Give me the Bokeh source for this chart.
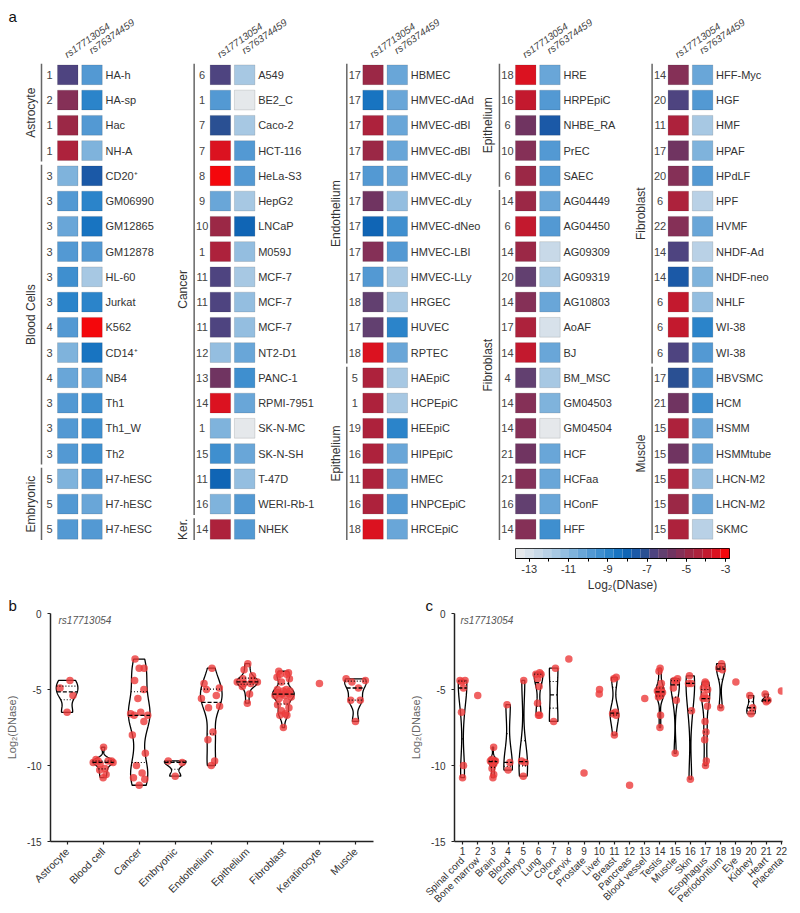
import numpy as np
from bokeh.plotting import figure
from bokeh.models import (Range1d, LinearColorMapper, ColumnDataSource, FixedTicker,
                          LinearAxis, Label, Spacer)
from bokeh.layouts import column, row
from bokeh.core.properties import value
from bokeh.embed import file_html
from bokeh.resources import INLINE

# ---------------- data ----------------
cell_names = [
    "HA-h", "HA-sp", "Hac", "NH-A", "CD20\u207a", "GM06990", "GM12865", "GM12878", "HL-60", "Jurkat",
    "K562", "CD14\u207a", "NB4", "Th1", "Th1_W", "Th2", "H7-hESC", "H7-hESC", "H7-hESC",
    "A549", "BE2_C", "Caco-2", "HCT-116", "HeLa-S3", "HepG2", "LNCaP", "M059J", "MCF-7", "MCF-7",
    "MCF-7", "NT2-D1", "PANC-1", "RPMI-7951", "SK-N-MC", "SK-N-SH", "T-47D", "WERI-Rb-1", "NHEK",
    "HBMEC", "HMVEC-dAd", "HMVEC-dBl", "HMVEC-dBl", "HMVEC-dLy", "HMVEC-dLy", "HMVEC-dNeo", "HMVEC-LBl",
    "HMVEC-LLy", "HRGEC", "HUVEC", "RPTEC", "HAEpiC", "HCPEpiC", "HEEpiC", "HIPEpiC", "HMEC", "HNPCEpiC", "HRCEpiC",
    "HRE", "HRPEpiC", "NHBE_RA", "PrEC", "SAEC", "AG04449", "AG04450", "AG09309", "AG09319", "AG10803",
    "AoAF", "BJ", "BM_MSC", "GM04503", "GM04504", "HCF", "HCFaa", "HConF", "HFF",
    "HFF-Myc", "HGF", "HMF", "HPAF", "HPdLF", "HPF", "HVMF", "NHDF-Ad", "NHDF-neo", "NHLF",
    "WI-38", "WI-38", "HBVSMC", "HCM", "HSMM", "HSMMtube", "LHCN-M2", "LHCN-M2", "SKMC"]

tissue_ids = [
    1, 2, 1, 1, 3, 3, 3, 3, 3, 3, 4, 3, 4, 3, 3, 3, 5, 5, 5,
    6, 1, 7, 7, 8, 9, 10, 1, 11, 11, 11, 12, 13, 14, 1, 15, 11, 16, 14,
    17, 17, 17, 17, 17, 17, 17, 17, 17, 18, 17, 18, 5, 1, 19, 16, 11, 16, 18,
    18, 16, 6, 10, 6, 14, 6, 14, 20, 14, 17, 14, 4, 14, 14, 21, 21, 16, 14,
    14, 20, 11, 17, 20, 6, 22, 14, 14, 6, 6, 6, 17, 21, 15, 15, 15, 15, 15]

rs17713054 = [
    -6.5, -5.4, -4.9, -4.4, -10.8, -9.7, -10.2, -9.7, -9.6, -8.8, -9.8, -10.6, -10.3, -9.8, -9.9, -9.7, -10.7, -9.7, -9.8,
    -6.7, -10.0, -7.1, -3.6, -3.0, -10.5, -5.0, -4.4, -6.7, -6.6, -6.5, -11.3, -5.6, -3.6, -10.8, -9.2, -8.0, -10.9, -4.6,
    -4.9, -8.3, -4.6, -5.0, -10.0, -5.6, -7.8, -5.4, -9.7, -6.2, -6.1, -3.6, -4.4, -4.5, -4.5, -4.6, -4.3, -4.6, -3.3,
    -3.7, -4.1, -5.9, -5.3, -4.8, -5.0, -4.0, -5.0, -6.2, -5.1, -4.5, -3.8, -6.0, -5.4, -5.2, -5.8, -5.3, -6.4, -5.3,
    -5.5, -6.6, -4.2, -5.6, -5.4, -4.3, -5.1, -6.7, -7.5, -4.0, -3.9, -6.7, -7.1, -5.7, -4.4, -5.7, -4.3, -4.9, -4.5]

rs76374459 = [
    -9.8, -9.0, -9.8, -10.8, -7.7, -9.0, -8.5, -9.8, -11.7, -9.1, -3.2, -8.3, -10.1, -9.4, -9.4, -9.4, -9.8, -10.4, -9.7,
    -11.8, -13.6, -11.8, -9.7, -9.7, -11.6, -8.0, -11.0, -11.7, -11.0, -11.0, -10.3, -9.4, -10.1, -13.7, -10.2, -11.0, -9.9, -9.7,
    -10.1, -10.1, -10.4, -10.2, -10.3, -11.0, -9.4, -9.9, -11.8, -11.6, -9.1, -10.2, -11.7, -11.7, -9.0, -10.2, -10.3, -9.7, -10.4,
    -10.4, -9.9, -7.6, -9.9, -9.7, -10.4, -9.9, -12.5, -11.8, -10.4, -12.9, -10.2, -11.7, -10.8, -13.7, -10.2, -10.4, -10.3, -9.4,
    -10.2, -9.7, -11.6, -10.8, -9.9, -12.3, -10.2, -12.1, -10.8, -11.0, -9.1, -9.9, -9.7, -9.4, -10.3, -10.3, -11.4, -10.3, -12.1]

group_labels = ["Astrocyte", "Blood Cells", "Embryonic", "Cancer", "Ker.", "Endothelium",
                "Epithelium", "Epithelium", "Fibroblast", "Fibroblast", "Muscle"]
group_categories = ["Astrocyte", "Blood cell", "Embryonic", "Cancer", "Keratinocyte", "Endothelium",
                    "Epithelium", "Epithelium", "Fibroblast", "Fibroblast", "Muscle"]
group_sizes = [4, 12, 3, 18, 1, 12, 7, 5, 14, 12, 7]

snp_labels = ["rs17713054", "rs76374459"]
b_categories = ["Astrocyte", "Blood cell", "Cancer", "Embryonic", "Endothelium",
                "Epithelium", "Fibroblast", "Keratinocyte", "Muscle"]
tissue_names = ["Spinal cord", "Bone marrow", "Brain", "Blood", "Embryo", "Lung", "Colon", "Cervix",
                "Prostate", "Liver", "Breast", "Pancreas", "Blood vessel", "Testis", "Muscle", "Skin",
                "Esophagus", "Periodontium", "Eye", "Kidney", "Heart", "Placenta"]
cbar_ticks = [-13, -11, -9, -7, -5, -3]
cbar_minor = [-13, -12, -11, -10, -9, -8, -7, -6, -5, -4, -3]
y_ticks = [-15, -10, -5, 0]

# ---------------- style ----------------
FONT = "Liberation Sans"
TXT = "#333333"
DOT = "#ec3b3b"

pal_vals = [-13.7, -13.0, -12.0, -11.0, -10.0, -9.0, -8.2, -7.6, -7.1, -6.8, -6.5, -6.2, -5.8, -5.4,
            -5.0, -4.5, -4.0, -3.6, -3.2, -2.8]
pal_cols = ["#ececec", "#d6e1ea", "#b5cfe5", "#8cbadf", "#5a9dd5", "#2e86cb", "#0c6abb", "#1a5aa8",
            "#2a5092", "#4a4680", "#524280", "#624070", "#6e3462", "#80325c", "#952a48", "#a82440",
            "#c01a30", "#d41424", "#ec0c16", "#ff0000"]
CB_LO, CB_HI, NBINS = -13.7, -2.8, 24


def _rgb(h):
    return [int(h[i:i + 2], 16) for i in (1, 3, 5)]


_rgbs = np.array([_rgb(c) for c in pal_cols], float)
_centers = CB_LO + (np.arange(NBINS) + 0.5) * (CB_HI - CB_LO) / NBINS
palette = []
for _v in _centers:
    ch = [int(round(np.interp(_v, pal_vals, _rgbs[:, i]))) for i in range(3)]
    palette.append("#%02x%02x%02x" % tuple(ch))
mapper = LinearColorMapper(palette=palette, low=CB_LO, high=CB_HI)

# ---------------- panel a: heatmap ----------------
ROWS = 19
COL_X0, COL_DX = 57.0, 152.65
ROW_Y0, ROW_DY = 74.3, 25.25
CELL_W, CELL_H = 20.5, 19.8
SNP_DX = [10.25, 34.5]
HEADER_ANGLE = np.deg2rad(35)

n = len(cell_names)
col_idx = [k // ROWS for k in range(n)]
row_idx = [k % ROWS for k in range(n)]
bases = [COL_X0 + c * COL_DX for c in col_idx]
ycent = [-(ROW_Y0 + r * ROW_DY) for r in row_idx]

HA = 540
pa = figure(width=800, height=HA, x_range=Range1d(0, 800), y_range=Range1d(-HA, 0),
            toolbar_location=None, output_backend="svg", x_axis_location=None, y_axis_location=None,
            min_border=0, outline_line_color=None)
pa.grid.visible = False

cx, cy, cv = [], [], []
for j, vals in enumerate([rs17713054, rs76374459]):
    for k in range(n):
        cx.append(bases[k] + SNP_DX[j])
        cy.append(ycent[k])
        cv.append(vals[k])
cell_src = ColumnDataSource(dict(x=cx, y=cy, v=cv))
pa.rect(x="x", y="y", width=CELL_W, height=CELL_H, source=cell_src,
        fill_color={"field": "v", "transform": mapper}, line_color="black", line_alpha=0.12, line_width=1)

pa.text(x=[b - 8 for b in bases], y=ycent, text=[str(t) for t in tissue_ids],
        text_font=value(FONT), text_font_size=value("11px"), text_color="#444444",
        text_align="center", text_baseline="middle")
pa.text(x=[b + 48 for b in bases], y=ycent, text=cell_names,
        text_font=value(FONT), text_font_size=value("11px"), text_color=TXT,
        text_align="left", text_baseline="middle")

hx, hy, ht = [], [], []
for c in range(5):
    b = COL_X0 + c * COL_DX
    hx += [b + 8.0, b + 32.5]
    hy += [-55.0, -51.0]
    ht += snp_labels
pa.text(x=hx, y=hy, text=ht, angle=HEADER_ANGLE, text_font=value(FONT), text_font_size=value("10px"),
        text_font_style="italic", text_color="#444444", text_align="left", text_baseline="alphabetic")

bx, by0, by1, gx, gy = [], [], [], [], []
start = 0
for size in group_sizes:
    k0, k1 = start, start + size - 1
    b = COL_X0 + (k0 // ROWS) * COL_DX
    ytop = ROW_Y0 + (k0 % ROWS) * ROW_DY - 11
    ybot = ROW_Y0 + (k1 % ROWS) * ROW_DY + 11
    bx.append(b - 16)
    by0.append(-ytop)
    by1.append(-ybot)
    gx.append(b - 27)
    gy.append(-(ytop + ybot) / 2)
    start += size
pa.segment(x0=bx, y0=by0, x1=bx, y1=by1, line_color="#666666", line_width=1.5)
pa.text(x=gx, y=gy, text=group_labels, angle=np.pi / 2, text_font=value(FONT), text_font_size=value("12px"),
        text_color=TXT, text_align="center", text_baseline="middle")
pa.text(x=[8], y=[-7], text=["a"], text_font=value(FONT), text_font_size=value("15px"),
        text_color="#111111", text_align="left", text_baseline="top")

# ---------------- colour bar ----------------
cb = figure(width=234, height=54, x_range=Range1d(CB_LO, CB_HI), y_range=Range1d(0, 1),
            toolbar_location=None, output_backend="svg", y_axis_location=None,
            min_border_left=0, min_border_right=20, min_border_top=8, min_border_bottom=36)
step = (CB_HI - CB_LO) / NBINS
cb.quad(left=[CB_LO + i * step for i in range(NBINS)], right=[CB_LO + (i + 1) * step for i in range(NBINS)],
        bottom=0, top=1, fill_color=palette, line_color=None)
cb.grid.visible = False
cb.outline_line_color = "black"
cb.outline_line_width = 1
cb.xaxis.ticker = FixedTicker(ticks=cbar_ticks, minor_ticks=cbar_minor)
cb.xaxis.major_label_overrides = {t: str(t) for t in cbar_ticks}
cb.xaxis.axis_line_color = "black"
cb.xaxis.major_tick_out = 3
cb.xaxis.major_tick_in = 0
cb.xaxis.minor_tick_out = 3
cb.xaxis.minor_tick_in = 0
cb.xaxis.major_label_standoff = 3
cb.xaxis.major_label_text_font = FONT
cb.xaxis.major_label_text_font_size = "11px"
cb.xaxis.major_label_text_color = TXT
cb.xaxis.axis_label = "Log\u2082(DNase)"
cb.xaxis.axis_label_text_font = FONT
cb.xaxis.axis_label_text_font_size = "12px"
cb.xaxis.axis_label_text_font_style = "normal"
cb.xaxis.axis_label_text_color = TXT
cb.xaxis.axis_label_standoff = 2


# ---------------- violins ----------------
def violin(vals, half=0.3, npts=80):
    v = np.asarray(vals, float)
    lo, hi = v.min(), v.max()
    ys = np.linspace(lo, hi, npts)
    sd = v.std(ddof=1) if len(v) > 1 else 0.0
    bw = 0.6 * 1.06 * sd * len(v) ** (-0.2)
    if bw <= 0.05:
        bw = 0.3
    dens = np.exp(-0.5 * ((ys[:, None] - v[None, :]) / bw) ** 2).sum(1)
    w = dens / dens.max() * half
    return ys, w


PATTERN = [0.0, 0.7, -0.7, 0.35, -0.35, 1.0, -1.0, 0.5, -0.5, 0.85, -0.85, 0.15, -0.15, 0.6, -0.6]


def draw_panel(p, groups, half, spread, pad):
    pxs, pys, mxs, mys, qxs, qys, dx, dy = [], [], [], [], [], [], [], []
    for pos, vals in groups:
        v = np.asarray(vals, float)
        if len(v) == 0:
            continue
        has_violin = len(v) >= 2 and (v.max() - v.min()) >= 0.5
        if has_violin:
            ys, w = violin(v, half)
            pxs.append(list(np.concatenate([pos - w, (pos + w)[::-1]])))
            pys.append(list(np.concatenate([ys, ys[::-1]])))
            q1, med, q3 = np.percentile(v, [25, 50, 75])
            wm = np.interp(med, ys, w)
            mxs.append([pos - wm, pos + wm]); mys.append([med, med])
            for q in (q1, q3):
                wq = np.interp(q, ys, w)
                qxs.append([pos - wq, pos + wq]); qys.append([q, q])
        order = np.argsort(v, kind="stable")
        for rank, idx in enumerate(order):
            if has_violin:
                wl = np.interp(v[idx], ys, w)
                off = PATTERN[rank % len(PATTERN)] * (wl * spread + pad)
            elif len(v) >= 2:
                off = PATTERN[rank % len(PATTERN)] * pad
            else:
                off = 0.0
            dx.append(pos + off)
            dy.append(v[idx])
    p.patches(xs=pxs, ys=pys, fill_color=None, line_color="black", line_width=1.3)
    p.scatter(x=dx, y=dy, size=7.5, fill_color=DOT, fill_alpha=0.8, line_color=None)
    p.multi_line(xs=qxs, ys=qys, line_color="black", line_width=1.1, line_dash="1 2")
    p.multi_line(xs=mxs, ys=mys, line_color="black", line_width=1.3, line_dash="4 2")


def style_panel(p, title_offset):
    p.grid.visible = False
    p.outline_line_color = None
    p.title.text_font = FONT
    p.title.text_font_size = "15px"
    p.title.text_font_style = "normal"
    p.title.text_color = "#111111"
    p.title.standoff = 0
    p.title.align = "left"
    p.title.offset = title_offset
    for ax in (p.xaxis[0], p.yaxis[0]):
        ax.axis_line_width = 1.5
        ax.axis_line_color = "#222222"
        ax.major_tick_line_color = "#222222"
        ax.major_tick_line_width = 1.2
        ax.major_tick_out = 3
        ax.major_tick_in = 0
        ax.minor_tick_line_color = None
        ax.major_label_text_font = FONT
        ax.major_label_text_color = TXT
    p.yaxis.ticker = FixedTicker(ticks=y_ticks)
    p.yaxis.major_label_overrides = {t: str(t) for t in y_ticks}
    p.yaxis.major_label_text_font_size = "10px"
    p.yaxis.major_label_standoff = 6
    p.yaxis.axis_label = "Log\u2082(DNase)"
    p.yaxis.axis_label_text_font = FONT
    p.yaxis.axis_label_text_font_size = "11px"
    p.yaxis.axis_label_text_font_style = "normal"
    p.yaxis.axis_label_text_color = "#666666"
    p.yaxis.axis_label_standoff = 6


cell_cat = []
for cat, size in zip(group_categories, group_sizes):
    cell_cat += [cat] * size

BH = 319
# ---------------- panel b ----------------
pb = figure(width=400, height=BH, x_range=Range1d(0.54, 9.5), y_range=Range1d(-15, 0),
            toolbar_location=None, output_backend="svg", title="b",
            min_border_left=50, min_border_right=27, min_border_top=19, min_border_bottom=72)
style_panel(pb, -42)
groups_b = [(i + 1, [rs17713054[k] for k in range(n) if cell_cat[k] == cat]) for i, cat in enumerate(b_categories)]
draw_panel(pb, groups_b, half=0.3, spread=0.8, pad=0.04)
pb.xaxis.ticker = FixedTicker(ticks=list(range(1, len(b_categories) + 1)))
pb.xaxis.major_label_overrides = {i + 1: c for i, c in enumerate(b_categories)}
pb.xaxis.major_label_orientation = np.pi / 4
pb.xaxis.major_label_text_font_size = "10.5px"
pb.xaxis.major_label_standoff = 5
pb.add_layout(Label(x=0.54, y=0, x_offset=8, y_offset=-1, text=snp_labels[0], text_font=FONT,
                    text_font_size="10px", text_font_style="italic", text_color="#555555",
                    text_baseline="top", text_align="left"))

# ---------------- panel c ----------------
pc = figure(width=400, height=BH, x_range=Range1d(0.47, 22.07), y_range=Range1d(-15, 0),
            toolbar_location=None, output_backend="svg", title="c",
            min_border_left=54, min_border_right=18, min_border_top=19, min_border_bottom=72)
style_panel(pc, -29)
groups_c = [(t, [rs17713054[k] for k in range(n) if tissue_ids[k] == t]) for t in range(1, 23)]
draw_panel(pc, groups_c, half=0.28, spread=0.5, pad=0.03)
ticks_c = list(range(1, 23))
pc.xaxis.ticker = FixedTicker(ticks=ticks_c)
pc.xaxis.major_label_overrides = {t: str(t) for t in ticks_c}
pc.xaxis.major_label_text_font_size = "10px"
pc.xaxis.major_label_standoff = 2
pc.xaxis.major_tick_out = 3
ax2 = LinearAxis(ticker=FixedTicker(ticks=ticks_c),
                 major_label_overrides={t: tissue_names[t - 1] for t in ticks_c},
                 axis_line_color=None, major_tick_line_color=None, minor_tick_line_color=None,
                 major_tick_out=0, major_tick_in=0, major_label_standoff=1,
                 major_label_orientation=np.pi / 4, major_label_text_font=FONT,
                 major_label_text_font_size="10px", major_label_text_color=TXT)
pc.add_layout(ax2, "below")
pc.add_layout(Label(x=0.47, y=0, x_offset=6, y_offset=-1, text=snp_labels[0], text_font=FONT,
                    text_font_size="10px", text_font_style="italic", text_color="#555555",
                    text_baseline="top", text_align="left"))

layout = column(pa, row(Spacer(width=515, height=54), cb), row(pb, pc))
open("out.html", "w").write(file_html(layout, INLINE))
